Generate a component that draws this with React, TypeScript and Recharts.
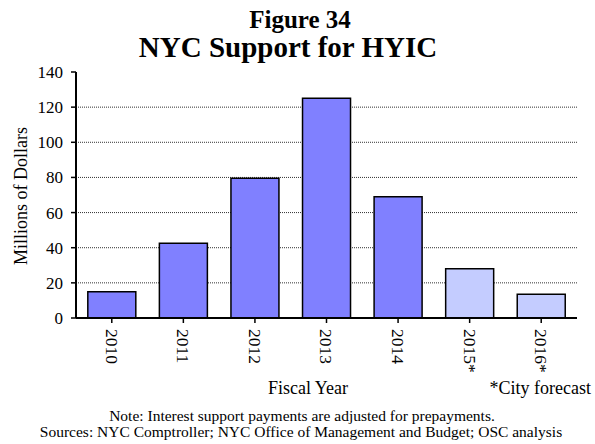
import { BarChart, Bar, XAxis, YAxis, CartesianGrid, Cell } from "recharts";

const years = ["2010", "2011", "2012", "2013", "2014", "2015*", "2016*"];
const support = [15, 42.5, 79.5, 125, 69, 28, 13.5];
const forecast = [false, false, false, false, false, true, true];
const yTicks = [0, 20, 40, 60, 80, 100, 120, 140];

const serif = "'Liberation Serif', 'Times New Roman', serif";

const chartData = years.map((year, i) => ({
  year,
  value: support[i],
  forecast: forecast[i],
}));

const YearTick = (props: any) => {
  const { x, y, payload } = props;
  return (
    <text
      transform={`translate(${x}, ${y + 4}) rotate(90)`}
      textAnchor="start"
      dy="0.35em"
      fontSize={17.5}
      fontFamily={serif}
      fill="#000"
    >
      {payload.value}
    </text>
  );
};

const App = () => {
  return (
    <div style={{ position: "absolute", left: 0, top: 0, width: 595, height: 444, background: "#fff" }}>
      <BarChart
        width={595}
        height={444}
        data={chartData}
        margin={{ top: 72, right: 18, bottom: 76, left: 36 }}
        barCategoryGap="16.5%"
      >
        <CartesianGrid
          vertical={false}
          horizontalValues={[20, 40, 60, 80, 100, 120]}
          stroke="#333"
          strokeDasharray="1 1"
          strokeWidth={1}
        />
        <XAxis
          dataKey="year"
          height={50}
          axisLine={{ stroke: "#000", strokeWidth: 2 }}
          tickLine={{ stroke: "#000", strokeWidth: 1.5 }}
          tickSize={5}
          tick={<YearTick />}
          interval={0}
        />
        <XAxis
          xAxisId="top"
          orientation="top"
          dataKey="year"
          height={0}
          tick={false}
          tickLine={false}
          axisLine={{ stroke: "#000", strokeWidth: 2 }}
        />
        <YAxis
          width={40}
          domain={[0, 140]}
          ticks={yTicks}
          interval={0}
          axisLine={{ stroke: "#000", strokeWidth: 2 }}
          tickLine={{ stroke: "#000", strokeWidth: 1.5 }}
          tickSize={5}
          tickMargin={8}
          tick={{ fill: "#000", fontSize: 17, fontFamily: serif }}
        />
        <YAxis
          yAxisId="right"
          orientation="right"
          width={0}
          domain={[0, 140]}
          tick={false}
          tickLine={false}
          axisLine={{ stroke: "#000", strokeWidth: 2 }}
        />
        <Bar dataKey="value" stroke="#000" strokeWidth={1.5} isAnimationActive={false}>
          {chartData.map((d) => (
            <Cell key={d.year} fill={d.forecast ? "#C4CCFF" : "#8080FF"} />
          ))}
        </Bar>
      </BarChart>
      <svg
        width={595}
        height={444}
        style={{ position: "absolute", left: 0, top: 0, pointerEvents: "none" }}
        fontFamily={serif}
      >
        <text x={300} y={28} textAnchor="middle" fontSize={25} fontWeight="bold">
          Figure 34
        </text>
        <text x={288} y={57} textAnchor="middle" fontSize={29} fontWeight="bold">
          NYC Support for HYIC
        </text>
        <text
          transform="translate(27, 196) rotate(-90)"
          textAnchor="middle"
          fontSize={18}
        >
          Millions of Dollars
        </text>
        <text x={308} y={394} textAnchor="middle" fontSize={18}>
          Fiscal Year
        </text>
        <text x={591} y={394} textAnchor="end" fontSize={18}>
          *City forecast
        </text>
        <text x={302} y={421} textAnchor="middle" fontSize={15.5}>
          Note: Interest support payments are adjusted for prepayments.
        </text>
        <text x={301} y={437} textAnchor="middle" fontSize={15.5}>
          Sources: NYC Comptroller; NYC Office of Management and Budget; OSC analysis
        </text>
      </svg>
    </div>
  );
};

export default App;
